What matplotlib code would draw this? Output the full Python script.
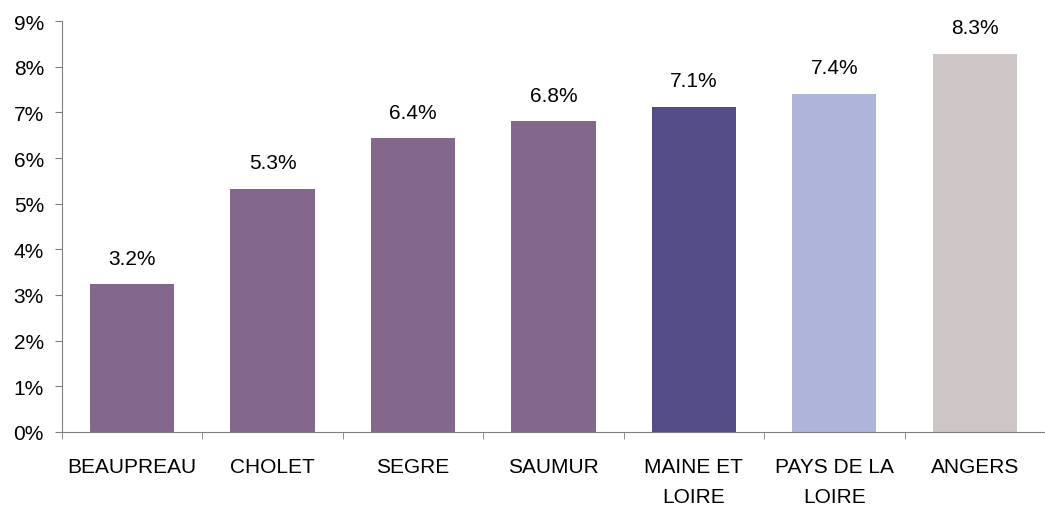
import matplotlib.pyplot as plt
from matplotlib.ticker import FixedLocator, FuncFormatter

plt.rcParams['font.family'] = ['Liberation Sans', 'DejaVu Sans']

categories = ['BEAUPREAU', 'CHOLET', 'SEGRE', 'SAUMUR', 'MAINE ET\nLOIRE', 'PAYS DE LA\nLOIRE', 'ANGERS']
values = [3.23, 5.33, 6.43, 6.80, 7.12, 7.41, 8.28]
labels = ['3.2%', '5.3%', '6.4%', '6.8%', '7.1%', '7.4%', '8.3%']
colors = ['#83678D', '#83678D', '#83678D', '#83678D', '#534C87', '#AEB4DA', '#CDC5C6']

fig = plt.figure(figsize=(10.45, 5.06), dpi=100)
ax = fig.add_axes([0.0593, 0.1443, 0.9407, 0.8122])

x = range(len(categories))
bars = ax.bar(x, values, width=0.6, color=colors)

for b, lab in zip(bars, labels):
    ax.annotate(lab, (b.get_x() + b.get_width() / 2, b.get_height()),
                xytext=(0, 12), textcoords='offset points',
                ha='center', va='bottom', fontsize=15)

ax.set_xlim(-0.5, len(categories) - 0.5)
ax.set_ylim(0, 9)
ax.set_yticks(range(0, 10))
ax.yaxis.set_major_formatter(FuncFormatter(lambda v, p: '%d%%' % v))

ax.set_xticks(list(x))
ax.set_xticklabels(categories, fontsize=15, linespacing=1.75)
ax.tick_params(axis='x', which='major', length=0, pad=18)
ax.xaxis.set_minor_locator(FixedLocator([i - 0.5 for i in range(len(categories))]))
ax.tick_params(axis='x', which='minor', length=5, color='#7f7f7f')
ax.tick_params(axis='y', length=5, color='#7f7f7f', labelsize=15, pad=8)

for s in ['top', 'right']:
    ax.spines[s].set_visible(False)
for s in ['left', 'bottom']:
    ax.spines[s].set_color('#7f7f7f')

fig.savefig('out.png')
